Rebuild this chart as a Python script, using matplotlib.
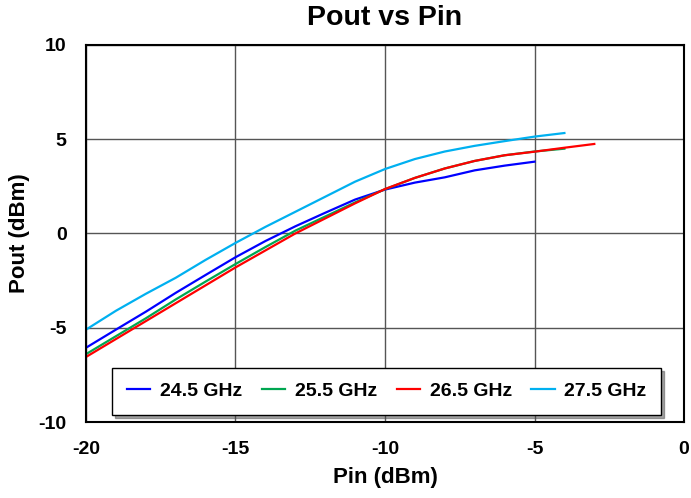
import matplotlib
matplotlib.use("Agg")
import matplotlib.pyplot as plt

plt.rcParams["font.family"] = ["Liberation Sans", "DejaVu Sans"]
plt.rcParams["font.weight"] = "bold"
plt.rcParams["axes.unicode_minus"] = False

# Pout (dBm) vs Pin (dBm) at four frequencies
pin_245 = [-20, -19, -18, -17, -16, -15, -14, -13, -12, -11, -10, -9, -8, -7, -6, -5]
pout_245 = [-6.06, -5.1, -4.15, -3.15, -2.2, -1.26, -0.4, 0.38, 1.1, 1.8, 2.33, 2.7, 2.98, 3.35, 3.6, 3.81]

pin_255 = [-20, -19, -18, -17, -16, -15, -14, -13, -12, -11, -10, -9, -8, -7, -6, -5, -4]
pout_255 = [-6.4, -5.45, -4.5, -3.5, -2.55, -1.62, -0.72, 0.15, 0.9, 1.65, 2.35, 2.95, 3.45, 3.85, 4.15, 4.35, 4.5]

pin_265 = [-20, -19, -18, -17, -16, -15, -14, -13, -12, -11, -10, -9, -8, -7, -6, -5, -4, -3]
pout_265 = [-6.55, -5.6, -4.65, -3.7, -2.75, -1.8, -0.9, 0.0, 0.8, 1.6, 2.36, 2.95, 3.45, 3.85, 4.15, 4.34, 4.55, 4.75]

pin_275 = [-20, -19, -18, -17, -16, -15, -14, -13, -12, -11, -10, -9, -8, -7, -6, -5, -4]
pout_275 = [-5.1, -4.1, -3.2, -2.35, -1.4, -0.5, 0.35, 1.15, 1.95, 2.75, 3.42, 3.95, 4.35, 4.65, 4.9, 5.14, 5.33]

SERIES = [
    ("24.5 GHz", pin_245, pout_245, "#0000ff"),
    ("25.5 GHz", pin_255, pout_255, "#00a651"),
    ("26.5 GHz", pin_265, pout_265, "#ff0000"),
    ("27.5 GHz", pin_275, pout_275, "#00b0f0"),
]

fig = plt.figure(figsize=(6.91, 4.98), dpi=100)
ax = fig.add_axes([86 / 691, 1 - 422 / 498, 598 / 691, 377 / 498])

for label, xs, ys, color in SERIES:
    ax.plot(xs, ys, color=color, lw=1.6, label=label)

ax.set_xlim(-20, 0)
ax.set_ylim(-10, 10)
ax.set_xticks([-20, -15, -10, -5, 0])
ax.set_yticks([-10, -5, 0, 5, 10])
ax.grid(True, color="#555555", lw=1)
ax.set_axisbelow(True)
for s in ax.spines.values():
    s.set_color("black")
    s.set_linewidth(1.5)
ax.tick_params(axis="x", length=0, labelsize=14, pad=14)
ax.tick_params(axis="y", length=0, labelsize=14, pad=14)
for t in ax.get_xticklabels() + ax.get_yticklabels():
    t.set_fontweight("bold")

ax.set_xlabel("Pin (dBm)", fontsize=16, fontweight="bold", labelpad=6)
ax.set_ylabel("Pout (dBm)", fontsize=16, fontweight="bold", labelpad=6)
fig.text(0.5 * (86 + 684) / 691, 1 - 18 / 498, "Pout vs Pin", ha="center",
         va="center", fontsize=20.5, fontweight="bold")

leg = ax.legend(loc="lower center", bbox_to_anchor=(0.503, 0.019), ncol=4,
                frameon=True, fancybox=False, shadow=True, fontsize=14,
                handlelength=1.2, columnspacing=1.0, handletextpad=0.5,
                borderpad=0.75, borderaxespad=0)
leg.get_frame().set_edgecolor("black")
leg.get_frame().set_linewidth(1)
for t in leg.get_texts():
    t.set_fontweight("bold")

fig.savefig("out.png", dpi=100)
